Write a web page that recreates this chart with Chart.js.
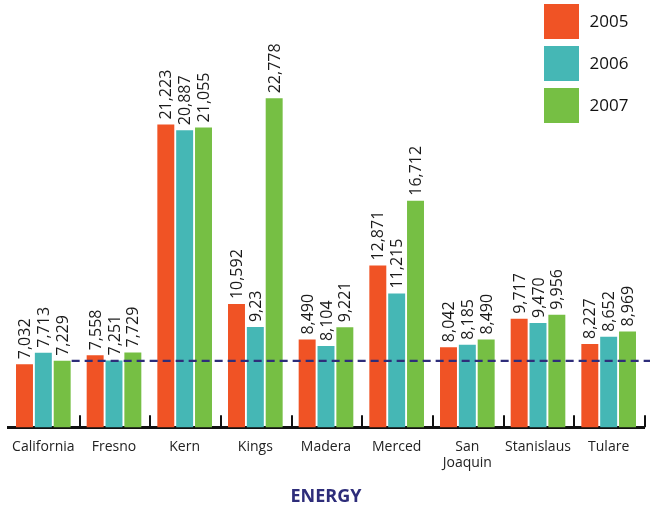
<!DOCTYPE html>
<html>
<head>
<meta charset="utf-8">
<script src="https://cdn.jsdelivr.net/npm/chart.js@4"></script>
<style>
  body { margin: 0; background: #fff; }
  #wrap { width: 650px; height: 510px; position: relative; }
</style>
</head>
<body>
<div id="wrap"><canvas id="energy-chart"></canvas></div>
<script>
// Counties and yearly values
var counties = ["California", "Fresno", "Kern", "Kings", "Madera", "Merced", ["San", "Joaquin"], "Stanislaus", "Tulare"]
var years = ["2005", "2006", "2007"]
var values2005 = [7032, 7558, 21223, 10592, 8490, 12871, 8042, 9717, 8227]
var values2006 = [7713, 7251, 20887, 9230, 8104, 11215, 8185, 9470, 8652]
var values2007 = [7229, 7729, 21055, 22778, 9221, 16712, 8490, 9956, 8969]
// state level reference line (California 2007)
var referenceLevel = 7229

var colors = ["#f05325", "#45b7b5", "#76bf44"]
var navy = "#2e2d7a"
var fontFamily = "'Open Sans', 'Noto Sans', sans-serif"

// Kings 2006 is printed short on the original sheet
function labelFor(datasetIndex, index, value) {
    if (datasetIndex == 1 && index == 3) return "9,23"
    return value.toLocaleString("en-US")
}

// value labels, rotated, above each bar
var barLabels = {
    id: "barLabels",
    afterDatasetsDraw(chart) {
        let ctx = chart.ctx
        ctx.save()
        ctx.font = "16px " + fontFamily
        ctx.fillStyle = "#1a1a1a"
        ctx.textAlign = "left"
        ctx.textBaseline = "middle"
        chart.data.datasets.forEach((ds, di) => {
            chart.getDatasetMeta(di).data.forEach((bar, i) => {
                ctx.save()
                ctx.translate(bar.x + 1, bar.y - 5)
                ctx.rotate(-Math.PI / 2)
                ctx.fillText(labelFor(di, i, ds.data[i]), 0, 0)
                ctx.restore()
            })
        })
        ctx.restore()
    }
}

// dashed reference line, category tick marks and the year legend
var decorations = {
    id: "decorations",
    afterDraw(chart) {
        let ctx = chart.ctx
        let x = chart.scales.x
        let y = chart.scales.y
        let area = chart.chartArea
        let half = (x.getPixelForValue(1) - x.getPixelForValue(0)) / 2

        // reference line starts after the California bars
        let first = chart.getDatasetMeta(2).data[0]
        let lineY = y.getPixelForValue(referenceLevel)
        ctx.save()
        ctx.strokeStyle = navy
        ctx.lineWidth = 2.2
        ctx.setLineDash([8, 5])
        ctx.beginPath()
        ctx.moveTo(first.x + first.width / 2 + 1, lineY)
        ctx.lineTo(650, lineY)
        ctx.stroke()
        ctx.restore()

        // short upward ticks between counties
        ctx.save()
        ctx.strokeStyle = "#111"
        ctx.lineWidth = 2
        for (let i = 0; i < counties.length; i++) {
            let tx = Math.round(x.getPixelForValue(i) + half) + 1
            ctx.beginPath()
            ctx.moveTo(tx, area.bottom - 12)
            ctx.lineTo(tx, area.bottom)
            ctx.stroke()
        }
        ctx.restore()

        // legend boxes
        ctx.save()
        ctx.font = "17px " + fontFamily
        ctx.fillStyle = "#111"
        ctx.textAlign = "center"
        ctx.textBaseline = "middle"
        chart.data.datasets.forEach((ds, di) => {
            let top = 4 + di * 42
            ctx.fillStyle = ds.backgroundColor
            ctx.fillRect(544, top, 35, 35)
            ctx.fillStyle = "#111"
            ctx.fillText(ds.label, 609, top + 18)
        })
        ctx.restore()
    }
}

function createChart() {
    new Chart("energy-chart", {
        type: "bar",
        data: {
            labels: counties,
            datasets: [
                { label: years[0], data: values2005, backgroundColor: colors[0] },
                { label: years[1], data: values2006, backgroundColor: colors[1] },
                { label: years[2], data: values2007, backgroundColor: colors[2] }
            ]
        },
        options: {
            responsive: true,
            maintainAspectRatio: false,
            animation: false,
            layout: { padding: { top: 0, left: 8, right: 6, bottom: 2 } },
            categoryPercentage: 0.8,
            barPercentage: 0.9,
            plugins: {
                legend: { display: false },
                tooltip: { enabled: false }
            },
            scales: {
                x: {
                    grid: { display: false },
                    border: { display: true, color: "#111", width: 3 },
                    ticks: {
                        color: "#222",
                        padding: 4,
                        maxRotation: 0,
                        autoSkip: false,
                        font: { family: fontFamily, size: 14, lineHeight: 1.15 }
                    },
                    title: {
                        display: true,
                        text: "ENERGY",
                        color: navy,
                        padding: { top: 11, bottom: 0 },
                        font: { family: fontFamily, size: 18, weight: "bold" }
                    }
                },
                y: {
                    display: false,
                    min: 3300,
                    max: 28600
                }
            }
        },
        plugins: [barLabels, decorations]
    })
}

createChart()
</script>
</body>
</html>
